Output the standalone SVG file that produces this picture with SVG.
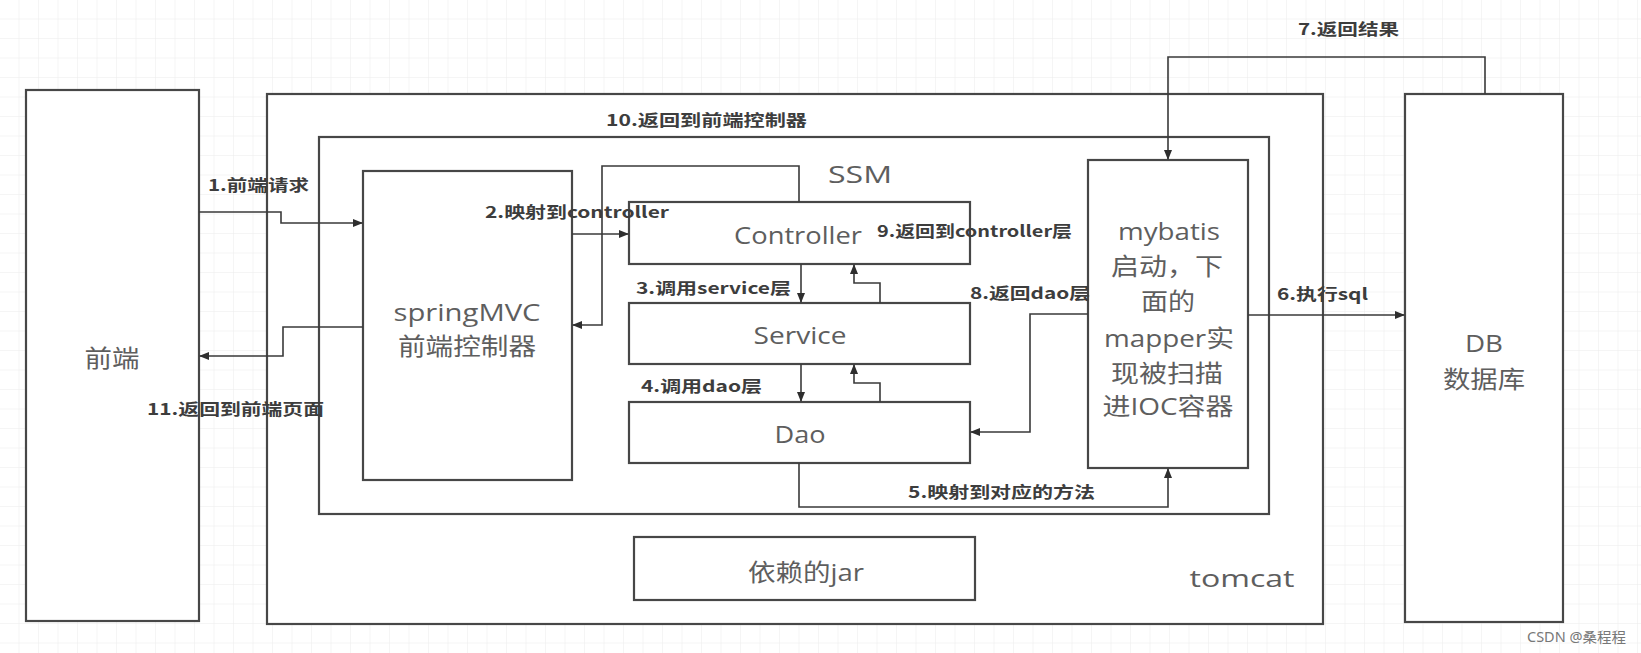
<svg xmlns="http://www.w3.org/2000/svg" width="1641" height="653" viewBox="0 0 1641 653">
<style>
.box{fill:#fff;stroke:#474747;stroke-width:2.2}
.con{fill:none;stroke:#3a3a3a;stroke-width:1.6}
.nl{font-family:"Open Sans","Noto Sans CJK SC",sans-serif;font-size:24px;fill:#5e5e5e;text-anchor:middle;dominant-baseline:central}
.el{font-family:"Noto Sans CJK SC","Noto Sans",sans-serif;font-size:16px;font-weight:bold;fill:#3d3d3d;dominant-baseline:central}
.wm{font-family:"Noto Sans","Noto Sans CJK SC",sans-serif;font-size:14px;fill:#777;dominant-baseline:central}
</style>
<defs>
<pattern id="grid" width="19.5" height="19.5" patternUnits="userSpaceOnUse">
<path d="M19.5 0V19.5H0" fill="none" stroke="#ececec" stroke-width="1"/>
</pattern>
<marker id="arr" viewBox="0 0 10 10" refX="9" refY="5" markerWidth="10" markerHeight="10" markerUnits="userSpaceOnUse" orient="auto">
<path d="M0,1 L10,5 L0,9 Z" fill="#2e2e2e"/>
</marker>
</defs>
<rect width="1641" height="653" fill="#fff"/>
<rect width="1641" height="653" fill="url(#grid)"/>

<g id="frontend"><rect class="box" x="26" y="90" width="173" height="531"/><text class="nl" x="112" y="357" textLength="55" lengthAdjust="spacingAndGlyphs">前端</text></g>
<g id="tomcat"><rect class="box" x="267" y="94" width="1056" height="530"/><text class="nl" x="1242" y="577" textLength="105" lengthAdjust="spacingAndGlyphs">tomcat</text></g>
<g id="ssm"><rect class="box" x="319" y="137" width="950" height="377"/><text class="nl" x="860" y="173" font-size="28" textLength="64" lengthAdjust="spacingAndGlyphs">SSM</text></g>
<g id="springmvc"><rect class="box" x="363" y="171" width="209" height="309"/><text class="nl" x="467" y="311" textLength="147" lengthAdjust="spacingAndGlyphs">springMVC</text><text class="nl" x="467" y="345" textLength="138" lengthAdjust="spacingAndGlyphs">前端控制器</text></g>
<g id="controller"><rect class="box" x="629" y="202" width="341" height="62"/><text class="nl" x="798" y="234" textLength="128" lengthAdjust="spacingAndGlyphs">Controller</text></g>
<g id="service"><rect class="box" x="629" y="303" width="341" height="61"/><text class="nl" x="800" y="334" textLength="93" lengthAdjust="spacingAndGlyphs">Service</text></g>
<g id="dao"><rect class="box" x="629" y="402" width="341" height="61"/><text class="nl" x="800" y="433" textLength="51" lengthAdjust="spacingAndGlyphs">Dao</text></g>
<g id="mybatis"><rect class="box" x="1088" y="160" width="160" height="308"/>
<text class="nl" x="1169" y="230" textLength="102" lengthAdjust="spacingAndGlyphs">mybatis</text>
<text class="nl" x="1167" y="265" textLength="112" lengthAdjust="spacingAndGlyphs">启动，下</text>
<text class="nl" x="1168" y="300" textLength="54" lengthAdjust="spacingAndGlyphs">面的</text>
<text class="nl" x="1169" y="337" textLength="130" lengthAdjust="spacingAndGlyphs">mapper实</text>
<text class="nl" x="1167" y="372" textLength="112" lengthAdjust="spacingAndGlyphs">现被扫描</text>
<text class="nl" x="1168" y="405" textLength="131" lengthAdjust="spacingAndGlyphs">进IOC容器</text></g>
<g id="jar"><rect class="box" x="634" y="537" width="341" height="63"/><text class="nl" x="806" y="571" textLength="116" lengthAdjust="spacingAndGlyphs">依赖的jar</text></g>
<g id="db"><rect class="box" x="1405" y="94" width="158" height="528"/><text class="nl" x="1484" y="342" textLength="38" lengthAdjust="spacingAndGlyphs">DB</text><text class="nl" x="1484" y="378" textLength="82" lengthAdjust="spacingAndGlyphs">数据库</text></g>

<g id="connectors">
<path class="con" marker-end="url(#arr)" d="M199,212 H281 V223 H362"/>
<path class="con" marker-end="url(#arr)" d="M572,234 H628"/>
<path class="con" marker-end="url(#arr)" d="M799,202 V166 H602 V325 H573"/>
<path class="con" marker-end="url(#arr)" d="M363,327 H283 V356 H200"/>
<path class="con" marker-end="url(#arr)" d="M801,264 V302"/>
<path class="con" marker-end="url(#arr)" d="M880,303 V283 H854 V265"/>
<path class="con" marker-end="url(#arr)" d="M801,364 V401"/>
<path class="con" marker-end="url(#arr)" d="M880,402 V383 H854 V365"/>
<path class="con" marker-end="url(#arr)" d="M1088,314 H1030 V432 H971"/>
<path class="con" marker-end="url(#arr)" d="M799,463 V507 H1168 V469"/>
<path class="con" marker-end="url(#arr)" d="M1248,315 H1404"/>
<path class="con" marker-end="url(#arr)" d="M1485,94 V57 H1168 V159"/>
<text class="el" x="208" y="184" textLength="101" lengthAdjust="spacingAndGlyphs">1.前端请求</text>
<text class="el" x="485" y="211" textLength="184" lengthAdjust="spacingAndGlyphs">2.映射到controller</text>
<text class="el" x="636" y="287" textLength="155" lengthAdjust="spacingAndGlyphs">3.调用service层</text>
<text class="el" x="641" y="385" textLength="121" lengthAdjust="spacingAndGlyphs">4.调用dao层</text>
<text class="el" x="908" y="491" textLength="187" lengthAdjust="spacingAndGlyphs">5.映射到对应的方法</text>
<text class="el" x="1277" y="293" textLength="91" lengthAdjust="spacingAndGlyphs">6.执行sql</text>
<text class="el" x="1298" y="28" textLength="101" lengthAdjust="spacingAndGlyphs">7.返回结果</text>
<text class="el" x="970" y="292" textLength="120" lengthAdjust="spacingAndGlyphs">8.返回dao层</text>
<text class="el" x="877" y="230" textLength="195" lengthAdjust="spacingAndGlyphs">9.返回到controller层</text>
<text class="el" x="606" y="119" textLength="201" lengthAdjust="spacingAndGlyphs">10.返回到前端控制器</text>
<text class="el" x="147" y="408" textLength="177" lengthAdjust="spacingAndGlyphs">11.返回到前端页面</text>
</g>
<text class="wm" x="1527" y="636" textLength="99" lengthAdjust="spacingAndGlyphs">CSDN @桑程程</text>
</svg>
